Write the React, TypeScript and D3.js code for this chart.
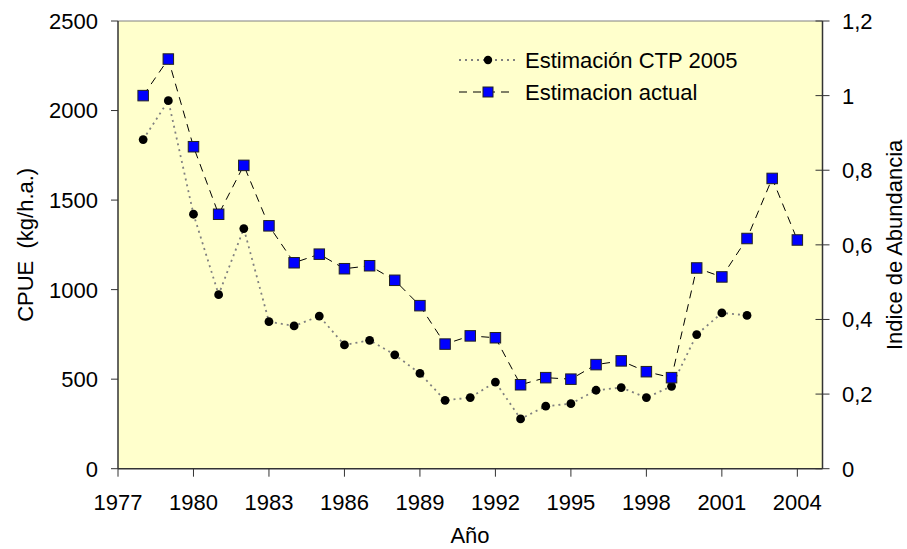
import React from "react";
import * as d3 from "d3";

const yearsCTP = [1978,1979,1980,1981,1982,1983,1984,1985,1986,1987,1988,1989,1990,1991,1992,1993,1994,1995,1996,1997,1998,1999,2000,2001,2002];
const valuesCTP = [1838,2055,1421,972,1341,821,797,852,691,717,636,532,382,397,484,278,349,363,438,453,397,460,749,870,856];

const yearsActual = [1978,1979,1980,1981,1982,1983,1984,1985,1986,1987,1988,1989,1990,1991,1992,1993,1994,1995,1996,1997,1998,1999,2000,2001,2002,2003,2004];
const valuesActual = [1.0,1.098,0.863,0.682,0.813,0.651,0.552,0.575,0.536,0.544,0.505,0.437,0.334,0.356,0.351,0.225,0.244,0.240,0.279,0.289,0.260,0.244,0.538,0.514,0.617,0.778,0.613];

const xTicks = [1977,1980,1983,1986,1989,1992,1995,1998,2001,2004];
const yLeftTicks = [0,500,1000,1500,2000,2500];
const yRightTicks = [0,0.2,0.4,0.6,0.8,1.0,1.2];

const legendLabels = ["Estimación CTP 2005", "Estimacion actual"];

const W = 907, H = 549;
const L = 118, R = 822.5, T = 21, B = 468.7;
const FONT = "'Liberation Sans', Arial, sans-serif";
const FS = 22;

export default function App() {
  const x = d3.scaleLinear().domain([1977, 2005]).range([L, R]);
  const yL = d3.scaleLinear().domain([0, 2500]).range([B, T]);
  const yR = d3.scaleLinear().domain([0, 1.2]).range([B, T]);

  const ctp = yearsCTP.map((yr, i) => [x(yr), yL(valuesCTP[i])] as [number, number]);
  const act = yearsActual.map((yr, i) => [x(yr), yR(valuesActual[i])] as [number, number]);
  const line = d3.line();

  const fmtR = (v: number) => (v === 0 ? "0" : d3.format("~g")(+v.toFixed(1)).replace(".", ","));

  return (
    <svg width={W} height={H} style={{ position: "absolute", left: 0, top: 0, background: "#fff" }} fontFamily={FONT}>
      <rect x={L} y={T} width={R - L} height={B - T} fill="#FFFFCC" />
      <line x1={L} x2={R} y1={T} y2={T} stroke="#808080" strokeWidth={1} />
      {/* series CTP */}
      <path d={line(ctp) || ""} fill="none" stroke="#808080" strokeWidth={1.8} strokeDasharray="2,4" />
      {ctp.map((p, i) => <circle key={"c" + i} cx={p[0]} cy={p[1]} r={4.4} fill="#000" />)}
      {/* series actual */}
      <path d={line(act) || ""} fill="none" stroke="#000" strokeWidth={1} strokeDasharray="8,6" />
      {act.map((p, i) => (
        <rect key={"s" + i} x={p[0] - 5.25} y={p[1] - 5.25} width={10.5} height={10.5} fill="#0000FF" stroke="#222" strokeWidth={1} />
      ))}
      {/* axes */}
      <line x1={L} x2={L} y1={T} y2={B} stroke="#333" strokeWidth={1.5} />
      <line x1={R} x2={R} y1={T} y2={B} stroke="#333" strokeWidth={1.5} />
      <line x1={L} x2={R} y1={B} y2={B} stroke="#333" strokeWidth={1.5} />
      {yLeftTicks.map((v) => (
        <g key={"yl" + v}>
          <line x1={L - 7} x2={L} y1={yL(v)} y2={yL(v)} stroke="#333" strokeWidth={1} />
          <text x={98} y={yL(v)} dy="0.36em" textAnchor="end" fontSize={FS} fill="#000">{v}</text>
        </g>
      ))}
      {yRightTicks.map((v) => (
        <g key={"yr" + v}>
          <line x1={R - 7} x2={R + 7} y1={yR(v)} y2={yR(v)} stroke="#333" strokeWidth={1} />
          <text x={842} y={yR(v)} dy="0.36em" textAnchor="start" fontSize={FS} fill="#000">{fmtR(v)}</text>
        </g>
      ))}
      {xTicks.map((v) => (
        <g key={"x" + v}>
          <line x1={x(v)} x2={x(v)} y1={B} y2={B + 8} stroke="#333" strokeWidth={1} />
          <text x={x(v)} y={510} textAnchor="middle" fontSize={FS} fill="#000">{v}</text>
        </g>
      ))}
      {/* axis titles */}
      <text x={470} y={543} textAnchor="middle" fontSize={FS} fill="#000">Año</text>
      <text transform={`translate(33,${(T + B) / 2}) rotate(-90)`} textAnchor="middle" fontSize={FS} fill="#000" style={{ whiteSpace: "pre" }}>{"CPUE  (kg/h.a.)"}</text>
      <text transform={`translate(902,${(T + B) / 2}) rotate(-90)`} textAnchor="middle" fontSize={FS} fill="#000">Indice de Abundancia</text>
      {/* legend */}
      <g>
        <line x1={459} x2={515} y1={60} y2={60} stroke="#808080" strokeWidth={1.8} strokeDasharray="2,4" />
        <circle cx={488} cy={60} r={4.2} fill="#000" />
        <text x={525} y={60} dy="0.36em" fontSize={FS} fill="#000">{legendLabels[0]}</text>
        <line x1={459} x2={515} y1={92} y2={92} stroke="#000" strokeWidth={1} strokeDasharray="8,6" />
        <rect x={483} y={87} width={10} height={10} fill="#0000FF" stroke="#222" strokeWidth={1} />
        <text x={525} y={92} dy="0.36em" fontSize={FS} fill="#000">{legendLabels[1]}</text>
      </g>
    </svg>
  );
}
